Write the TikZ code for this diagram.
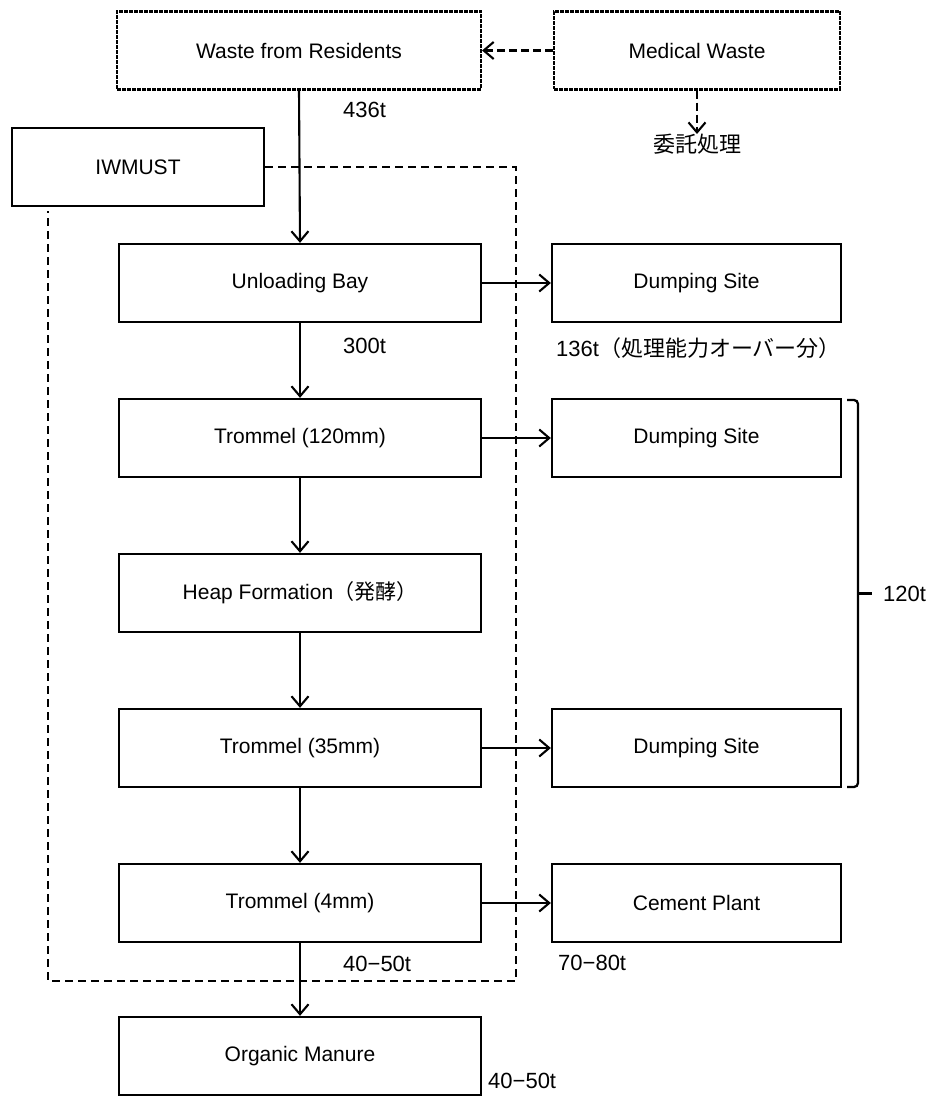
\documentclass[tikz,border=0pt]{standalone}
\usepackage{fontspec}
\setmainfont{Liberation Sans}
\newfontfamily\jp{Noto Sans CJK JP}
\usetikzlibrary{arrows.meta, calc}
\tikzset{
    my-box/.style={
        draw, line width=2.3pt, inner sep=0pt, minimum height=78pt,
        font=\fontsize{21}{25}\selectfont
    },
    my-main-box/.style={
        my-box, minimum width=362pt
    },
    my-side-box/.style={
        my-box, minimum width=289pt
    },
    my-source-box/.style={
        my-box, line width=2.1pt, dash pattern=on 4pt off 1pt
    },
    my-arrow/.style={
        line width=2.1pt, -{Straight Barb[length=10pt, width=17pt]}
    },
    my-dashed-arrow/.style={
        my-arrow, dash pattern=on 8pt off 4pt
    },
    my-frame/.style={
        line width=2.1pt, dash pattern=on 8pt off 5pt
    },
    my-label/.style={
        inner sep=0pt, font=\fontsize{22}{26}\selectfont
    },
}

\begin{document}
\begin{tikzpicture}[x=1pt, y=-1pt]

        \useasboundingbox (0,0) rectangle (937,1097);

        % SOURCES
        \node[my-source-box, minimum width=364pt] (WASTE)   at (299,50.5) {Waste from Residents};
        \node[my-source-box, minimum width=286pt] (MEDICAL) at (697,50.5) {Medical Waste};
        \node[my-label, anchor=north]             (ITAKU)   at (697,134)  {\jp 委託処理};
        \draw[my-dashed-arrow] (MEDICAL) -- (WASTE);
        \draw[my-dashed-arrow] (MEDICAL) -- (ITAKU);

        % IWMUST AND ITS DASHED FRAME
        \node[my-box, minimum width=252pt] (IWMUST) at (138,167) {IWMUST};
        \coordinate (FRAMENE) at (516,167);
        \coordinate (FRAMESW) at (48,981);
        \draw[my-frame] (IWMUST.east) -- (FRAMENE) -- (FRAMENE |- FRAMESW) -- (FRAMESW)
                        -- ($(FRAMESW |- IWMUST.south) + (0,4)$);

        % MAIN LINE
        \node[my-main-box] (UNLOAD) at (300,283)                {Unloading Bay};
        \node[my-main-box] (TROM1)  at ($(UNLOAD) + (0,155)$) {Trommel (120mm)};
        \node[my-main-box] (HEAP)   at ($(TROM1)  + (0,155)$) {Heap Formation{\jp（発酵）}};
        \node[my-main-box] (TROM2)  at ($(HEAP)   + (0,155)$) {Trommel (35mm)};
        \node[my-main-box] (TROM3)  at ($(TROM2)  + (0,155)$) {Trommel (4mm)};
        \node[my-main-box] (MANURE) at ($(TROM3)  + (0,153)$) {Organic Manure};

        % SIDE BOXES
        \node[my-side-box] (DUMP1)  at (696.5,283)             {Dumping Site};
        \node[my-side-box] (DUMP2)  at ($(DUMP1) + (0,155)$)  {Dumping Site};
        \node[my-side-box] (DUMP3)  at ($(DUMP2) + (0,310)$)  {Dumping Site};
        \node[my-side-box] (CEMENT) at ($(DUMP3) + (0,155)$)  {Cement Plant};

        % MAIN FLOW
        \draw[my-arrow] (WASTE.south) -- (UNLOAD.north);
        \draw[my-arrow] (UNLOAD) -- (TROM1);
        \draw[my-arrow] (TROM1)  -- (HEAP);
        \draw[my-arrow] (HEAP)   -- (TROM2);
        \draw[my-arrow] (TROM2)  -- (TROM3);
        \draw[my-arrow] (TROM3)  -- (MANURE);

        % SIDE FLOWS
        \draw[my-arrow] (UNLOAD) -- (DUMP1);
        \draw[my-arrow] (TROM1)  -- (DUMP2);
        \draw[my-arrow] (TROM2)  -- (DUMP3);
        \draw[my-arrow] (TROM3)  -- (CEMENT);

        % AMOUNTS
        \node[my-label, anchor=west] (L436)   at (343,110)  {436t};
        \node[my-label, anchor=west] (L300)   at (343,346)  {300t};
        \node[my-label, anchor=west] (L136)   at (556,348)  {136t{\jp（処理能力オーバー分）}};
        \node[my-label, anchor=west] (L4050A) at (343,964)  {40−50t};
        \node[my-label, anchor=west] (L7080)  at (558,963)  {70−80t};
        \node[my-label, anchor=west] (L4050B) at (488,1081) {40−50t};

        % BRACKET FOR THE DUMPING SITES
        \coordinate (BRTOP) at (858,400);
        \coordinate (BRBOT) at (858,787);
        \coordinate (BRMID) at ($(BRTOP)!.5!(BRBOT)$);
        \node[my-label, anchor=west] (L120) at ($(BRMID) + (25,0)$) {120t};
        \draw[line width=2.3pt, rounded corners=4pt] ($(BRTOP) + (-11,0)$) -- (BRTOP) -- (BRBOT) -- ($(BRBOT) + (-11,0)$);
        \draw[line width=2.3pt] (BRMID) -- ($(L120.west) + (-11,0)$);

\end{tikzpicture}
\end{document}
